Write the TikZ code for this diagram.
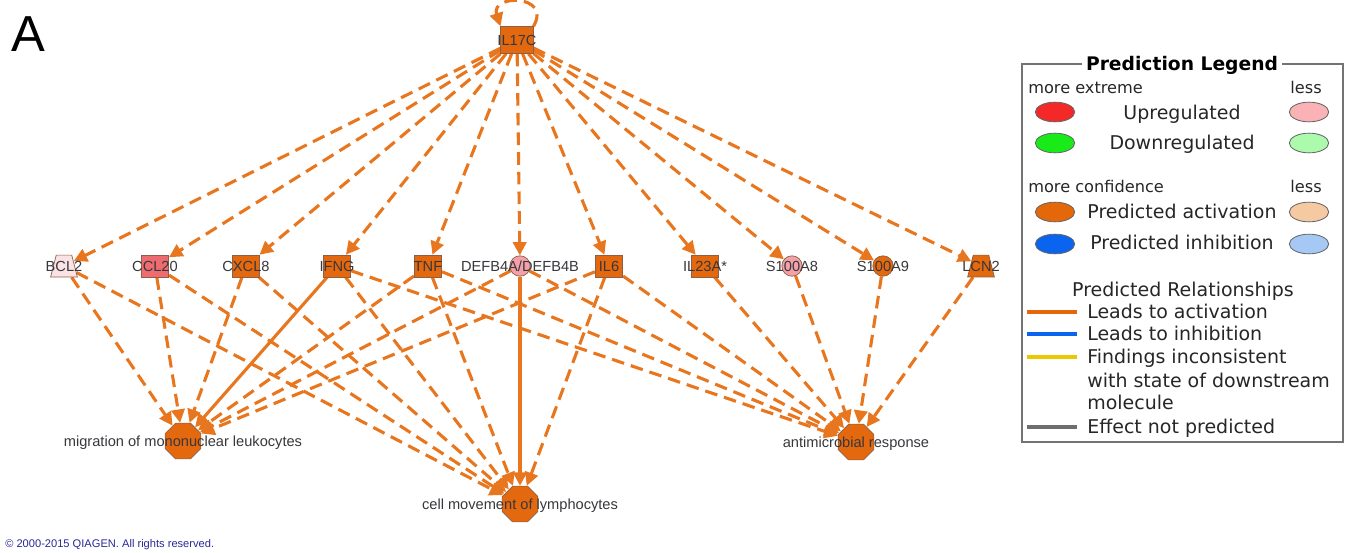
\documentclass[tikz,border=0pt]{standalone}
\usepackage{fontspec}
\setmainfont{Liberation Sans}
\newfontfamily\legendfont{DejaVu Sans}
\usetikzlibrary{shapes.geometric,arrows.meta,backgrounds}

\definecolor{ipaorange}{RGB}{228,104,14}
\definecolor{edgeorange}{RGB}{232,118,30}
\definecolor{nodeline}{RGB}{140,95,70}
\definecolor{labelgray}{RGB}{55,55,60}
\definecolor{uppink}{RGB}{238,108,112}
\definecolor{lightpink}{RGB}{243,160,168}
\definecolor{palepink}{RGB}{250,226,229}
\definecolor{qiagenblue}{RGB}{40,40,150}
\definecolor{lgred}{RGB}{245,40,40}
\definecolor{lgpink}{RGB}{250,178,182}
\definecolor{lggreen}{RGB}{25,235,25}
\definecolor{lglightgreen}{RGB}{172,250,172}
\definecolor{lgorange}{RGB}{228,104,10}
\definecolor{lgpeach}{RGB}{245,202,162}
\definecolor{lgblue}{RGB}{10,100,240}
\definecolor{lglightblue}{RGB}{165,200,245}
\definecolor{lgyellow}{RGB}{235,200,0}
\definecolor{lggray}{RGB}{110,110,110}

\tikzset{
  gene/.style={draw=nodeline,line width=0.5pt,fill=ipaorange,minimum width=19.5pt,minimum height=15.5pt,inner sep=0pt},
  transporter/.style={trapezium,trapezium angle=70,trapezium stretches=true,draw=nodeline,line width=0.5pt,minimum width=19pt,minimum height=15.5pt,inner sep=1pt},
  other/.style={circle,draw=nodeline,line width=0.5pt,minimum size=14.5pt,inner sep=0pt},
  func/.style={regular polygon,regular polygon sides=8,draw=nodeline,line width=0.5pt,fill=ipaorange,minimum size=27.5pt,inner sep=0pt},
  glabel/.style={font=\fontsize{10.4}{12}\selectfont,text=labelgray,text height=7.4pt,text depth=0pt,inner sep=0pt},
  pred/.style={draw=edgeorange,line width=2.2pt,dash pattern=on 9pt off 5pt,-{Triangle[length=9.5pt,width=9.5pt]}},
  predsolid/.style={pred,solid},
  lgtext/.style={font=\legendfont\fontsize{13.5}{16}\selectfont,text=black!85,text height=9.8pt,text depth=0pt,inner sep=0pt},
  lgsmall/.style={font=\legendfont\fontsize{11.5}{14}\selectfont,text=black!85,text height=8.4pt,text depth=0pt,inner sep=0pt},
  lgoval/.style={ellipse,draw=black!60,line width=0.6pt,minimum width=28pt,minimum height=14pt,inner sep=0pt},
  lgline/.style={line width=3pt}
}

\begin{document}
\begin{tikzpicture}[x=0.025cm,y=-0.025cm]
  \useasboundingbox (0,0) rectangle (1353,552);

  % panel letter
  \node[font=\fontsize{36}{40}\selectfont,inner sep=0pt] (panel) at (28,34) {A};

  % upstream regulator
  \node[gene,minimum width=23pt,minimum height=19pt,label={[glabel]center:IL17C}] (il17c) at (517,40) {};

  % molecules
  \node[transporter,fill=palepink,label={[glabel]center:BCL2}] (bcl2) at (64,266) {};
  \node[gene,fill=uppink,label={[glabel]center:CCL20}] (ccl20) at (155,266) {};
  \node[gene,label={[glabel]center:CXCL8}] (cxcl8) at (246,266) {};
  \node[gene,label={[glabel]center:IFNG}] (ifng) at (337,266) {};
  \node[gene,label={[glabel]center:TNF}] (tnf) at (428,266) {};
  \node[other,fill=lightpink,label={[glabel]center:DEFB4A/DEFB4B}] (defb) at (520,266) {};
  \node[gene,label={[glabel]center:IL6}] (il6) at (609,266) {};
  \node[gene,label={[glabel]center:IL23A*}] (il23a) at (705,266) {};
  \node[other,fill=lightpink,label={[glabel]center:S100A8}] (s100a8) at (792,266) {};
  \node[other,fill=ipaorange,label={[glabel]center:S100A9}] (s100a9) at (883,266) {};
  \node[transporter,fill=ipaorange,label={[glabel]center:LCN2}] (lcn2) at (981,266) {};

  % functions
  \node[func,label={[glabel]center:migration of mononuclear leukocytes}] (migr) at (183,441) {};
  \node[func,label={[glabel]center:cell movement of lymphocytes}] (cellmov) at (520,504) {};
  \node[func,label={[glabel]center:antimicrobial response}] (antimic) at (856,442) {};

  % edges
  \begin{scope}[on background layer]
    \draw[pred] (il17c.north east) .. controls (552,-6) and (490,-6) .. (il17c.north west);
    \foreach \g in {bcl2,ccl20,cxcl8,ifng,tnf,defb,il6,il23a,s100a8,s100a9,lcn2}
      \draw[pred] (il17c) -- (\g);
    \foreach \g in {bcl2,ccl20,cxcl8,tnf,defb,il6}
      \draw[pred] (\g) -- (migr);
    \draw[predsolid] (ifng) -- (migr);
    \foreach \g in {bcl2,ccl20,cxcl8,ifng,tnf,il6}
      \draw[pred] (\g) -- (cellmov);
    \draw[predsolid] (defb) -- (cellmov);
    \foreach \g in {ifng,tnf,defb,il6,il23a,s100a8,s100a9,lcn2}
      \draw[pred] (\g) -- (antimic);
  \end{scope}

  % legend
  \draw[black!55,line width=1.2pt] (1022,64) rectangle (1343,442);
  \node[font=\legendfont\bfseries\fontsize{13.3}{16}\selectfont,fill=white,inner xsep=3pt,inner ysep=1pt,text height=9.6pt,text depth=0pt] (lgtitle) at (1182,64) {Prediction Legend};
  \node[lgsmall,anchor=west] (extreme) at (1028,88) {more extreme};
  \node[lgsmall,anchor=east] (lessa) at (1322,88) {less};
  \node[lgoval,fill=lgred] (ovred) at (1055,112) {};
  \node[lgtext] (up) at (1182,113) {Upregulated};
  \node[lgoval,fill=lgpink] (ovpink) at (1309,112) {};
  \node[lgoval,fill=lggreen] (ovgreen) at (1055,143) {};
  \node[lgtext] (down) at (1182,143) {Downregulated};
  \node[lgoval,fill=lglightgreen] (ovlgreen) at (1309,143) {};
  \node[lgsmall,anchor=west] (confid) at (1028,187) {more confidence};
  \node[lgsmall,anchor=east] (lessb) at (1322,187) {less};
  \node[lgoval,fill=lgorange] (ovorange) at (1055,212) {};
  \node[lgtext] (act) at (1182,212) {Predicted activation};
  \node[lgoval,fill=lgpeach] (ovpeach) at (1309,212) {};
  \node[lgoval,fill=lgblue] (ovblue) at (1055,244) {};
  \node[lgtext] (inh) at (1182,243) {Predicted inhibition};
  \node[lgoval,fill=lglightblue] (ovlblue) at (1309,244) {};
  \node[lgtext] (rel) at (1183,290) {Predicted Relationships};
  \draw[lgline,lgorange] (1027,312) -- (1077,312);
  \node[lgtext,anchor=west] (relact) at (1087,312) {Leads to activation};
  \draw[lgline,lgblue] (1027,334) -- (1077,334);
  \node[lgtext,anchor=west] (relinh) at (1087,334) {Leads to inhibition};
  \draw[lgline,lgyellow] (1027,357) -- (1077,357);
  \node[lgtext,anchor=west] (relinc) at (1087,357) {Findings inconsistent};
  \node[lgtext,anchor=west] (relinc2) at (1087,381) {with state of downstream};
  \node[lgtext,anchor=west] (relinc3) at (1087,403) {molecule};
  \draw[lgline,lggray] (1027,427) -- (1077,427);
  \node[lgtext,anchor=west] (relnone) at (1087,427) {Effect not predicted};

  % copyright
  \node[font=\fontsize{7.9}{9}\selectfont,text=qiagenblue,anchor=west,inner sep=0pt] (copy) at (5,545) {\textcopyright{} 2000-2015 QIAGEN. All rights reserved.};
\end{tikzpicture}
\end{document}
